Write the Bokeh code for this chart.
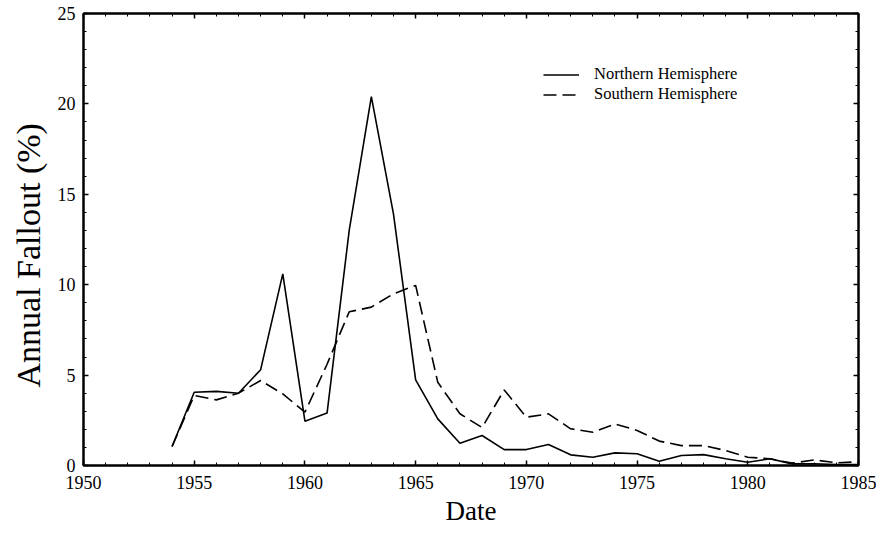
from bokeh.plotting import figure
from bokeh.models import (Range1d, LinearAxis, SingleIntervalTicker, Legend, LegendItem,
                          CustomJSTickFormatter, Title)
from bokeh.embed import file_html
from bokeh.resources import INLINE

years = list(range(1954, 1986))
northern = [1.05, 4.05, 4.1, 4.0, 5.3, 10.6, 2.45, 2.9, 13.0, 20.4, 13.9, 4.74,
            2.58, 1.23, 1.66, 0.88, 0.88, 1.16, 0.59, 0.46, 0.70, 0.65, 0.24, 0.55,
            0.6, 0.37, 0.18, 0.37, 0.09, 0.1, 0.05, 0.05]
southern = [1.05, 3.87, 3.63, 4.0, 4.7, 3.96, 2.95, 5.6, 8.5, 8.76, 9.5, 9.96,
            4.6, 2.86, 2.1, 4.18, 2.67, 2.86, 2.03, 1.84, 2.3, 1.94, 1.35, 1.1,
            1.1, 0.83, 0.46, 0.37, 0.13, 0.31, 0.15, 0.2]
series_names = ["Northern Hemisphere", "Southern Hemisphere"]
y_title = "Annual Fallout (%)"
x_title = "Date"

FONT = "Liberation Serif"

p = figure(width=876, height=533, output_backend="svg", toolbar_location=None,
           x_range=Range1d(1950, 1985), y_range=Range1d(0, 25),
           x_axis_location=None, y_axis_location=None,
           min_border_left=81, min_border_right=18, min_border_top=13, min_border_bottom=68)
p.xgrid.visible = False
p.ygrid.visible = False
p.outline_line_color = "black"
p.outline_line_width = 2
p.background_fill_color = "white"
p.border_fill_color = "white"


def style(ax, labels=True):
    ax.axis_line_width = 2
    ax.axis_line_color = "black"
    ax.major_tick_in = 5
    ax.major_tick_out = 0
    ax.minor_tick_in = 3
    ax.minor_tick_out = 0
    ax.major_tick_line_width = 1.5
    ax.minor_tick_line_width = 1
    if labels:
        ax.major_label_text_font = FONT
        ax.major_label_text_font_size = "18px"
        ax.major_label_text_color = "black"
        ax.axis_label_text_font = FONT
        ax.axis_label_text_font_style = "normal"
        ax.axis_label_text_color = "black"
    else:
        ax.formatter = CustomJSTickFormatter(code="return ''")
        ax.major_label_standoff = 0
        ax.axis_label = None


xb = LinearAxis(ticker=SingleIntervalTicker(interval=5, num_minor_ticks=5), axis_label=x_title)
style(xb)
xb.major_label_standoff = 10
xb.axis_label_text_font_size = "27px"
xb.axis_label_standoff = 4
p.add_layout(xb, "below")

yl = LinearAxis(ticker=SingleIntervalTicker(interval=5, num_minor_ticks=5))
style(yl)
yl.major_label_standoff = 8
p.add_layout(yl, "left")

yt = Title(text=y_title, align="left", offset=78, text_font=FONT,
           text_font_size="34px", text_font_style="normal", text_color="black",
           standoff=15)
p.add_layout(yt, "left")

xt = LinearAxis(ticker=SingleIntervalTicker(interval=5, num_minor_ticks=5))
style(xt, labels=False)
p.add_layout(xt, "above")

yr = LinearAxis(ticker=SingleIntervalTicker(interval=5, num_minor_ticks=5))
style(yr, labels=False)
p.add_layout(yr, "right")

r1 = p.line(years, northern, line_color="black", line_width=1.6)
r2 = p.line(years, southern, line_color="black", line_width=1.6, line_dash="13 6")

legend = Legend(items=[LegendItem(label=series_names[0], renderers=[r1]),
                       LegendItem(label=series_names[1], renderers=[r2])],
                location=(460, 361))
legend.label_text_font = FONT
legend.label_text_font_size = "16.5px"
legend.label_text_color = "black"
legend.glyph_width = 36
legend.glyph_height = 19
legend.label_height = 19
legend.label_standoff = 15
legend.spacing = 0
legend.padding = 0
legend.margin = 0
legend.background_fill_alpha = 0
legend.border_line_alpha = 0
p.add_layout(legend, "center")

open("out.html", "w").write(file_html(p, INLINE))
